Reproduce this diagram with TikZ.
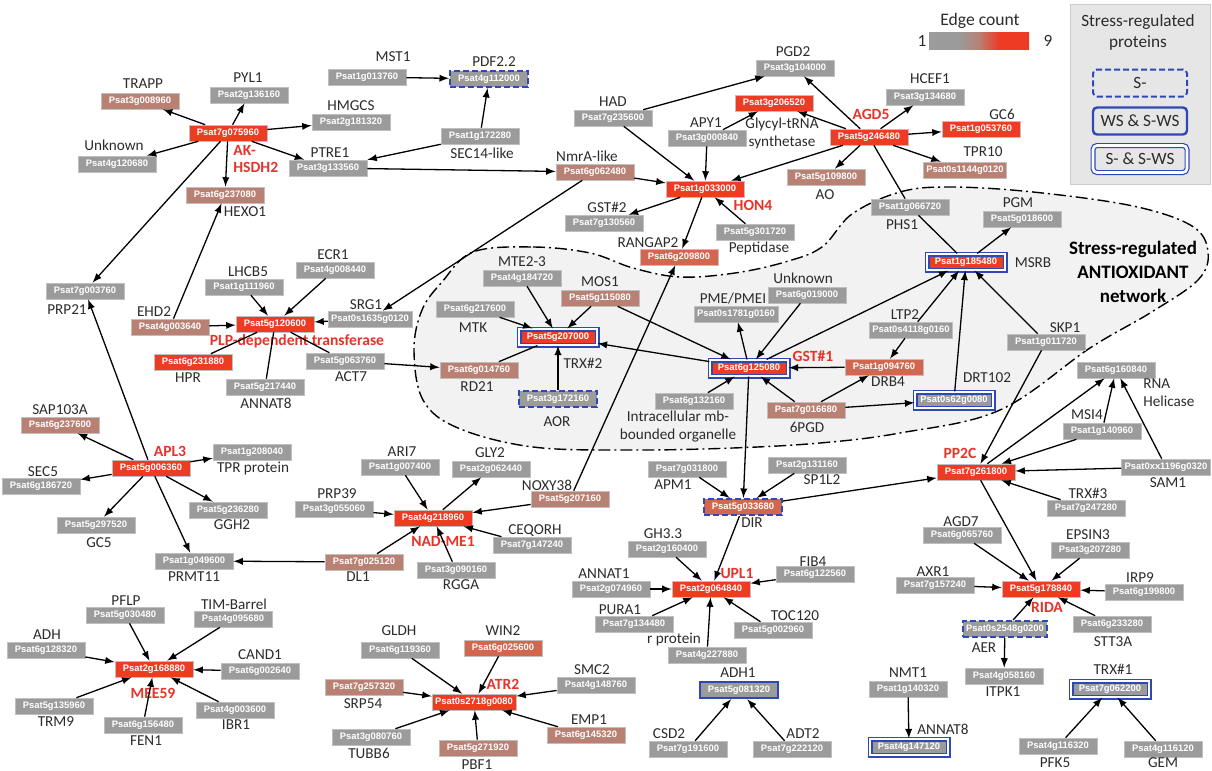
\documentclass[tikz,border=0pt]{standalone}
\usepackage{fontspec}
\setmainfont{Carlito}
\newfontfamily\boxfont{Liberation Sans}
\usepackage{tikz}

\definecolor{cgrey}{HTML}{9B9B9B}
\definecolor{cbrown}{HTML}{B98074}
\definecolor{corange}{HTML}{D2664E}
\definecolor{cred}{HTML}{EE3B24}
\definecolor{cblue}{HTML}{2E49B5}
\definecolor{ctext}{HTML}{E8322A}
\definecolor{cblob}{HTML}{F2F2F2}
\definecolor{clegend}{HTML}{E7E6E6}
\definecolor{clabel}{HTML}{2B2B2B}

\pgfdeclarehorizontalshading{edgeshade}{100bp}{color(0bp)=(cgrey); color(25bp)=(cgrey); color(40bp)=(cgrey); color(50bp)=(cbrown); color(60bp)=(cred); color(75bp)=(cred); color(100bp)=(cred)}

\tikzset{
  prot/.style={rectangle, minimum width=39pt, minimum height=8pt, inner xsep=1.5pt, inner ysep=0pt,
    text=white, font=\boxfont\bfseries\fontsize{4.7}{5}\selectfont, draw=black!25, line width=0.3pt},
  pgrey/.style={prot, fill=cgrey},
  pbrown/.style={prot, fill=cbrown},
  porange/.style={prot, fill=corange},
  phub/.style={prot, fill=cred},
  sdash/.style={draw=cblue, line width=1pt, dash pattern=on 3pt off 1.5pt},
  sws/.style={draw=cblue, line width=1.2pt},
  sdbl/.style={draw=cblue, line width=0.6pt, double=white, double distance=1.3pt},
  lab/.style={font=\fontsize{7.6}{9}\selectfont, text=clabel, inner sep=0pt, align=center},
  hublab/.style={font=\bfseries\fontsize{7.8}{8.8}\selectfont, text=ctext, inner sep=0pt, align=left},
  legbox/.style={rectangle, rounded corners=2pt, minimum width=47pt, minimum height=13.5pt,
    font=\fontsize{8.6}{10}\selectfont, text=clabel},
  link/.style={-latex, line width=0.65pt},
  bare/.style={line width=0.65pt}
}

\begin{document}
\begin{tikzpicture}[x=0.5pt,y=-0.5pt]
  \useasboundingbox (0,0) rectangle (1212,771);

  % antioxidant network area
  \begin{scope}
    \clip (0,0) rectangle (1212,771);
    \draw[fill=cblob, line width=0.7pt, dash pattern=on 6pt off 2pt on 1pt off 2pt]
      plot[smooth cycle, tension=0.6] coordinates {(473,252) (533,247) (590,253) (633,268) (680,277)
      (735,273) (785,262) (822,247) (852,214) (900,192) (950,187) (1033,192) (1133,206) (1192,226)
      (1208,252) (1198,280) (1150,313) (1090,348) (1000,410) (900,433) (820,443) (733,448) (633,450)
      (533,447) (458,428) (423,400) (414,350) (422,310) (442,282)};
  \end{scope}
  \node[font=\bfseries\fontsize{9.5}{12}\selectfont, align=center, inner sep=0pt] (antiox) at (1133,272)
    {Stress-regulated\\ANTIOXIDANT\\network};

  % legend
  \node[font=\fontsize{8.8}{10}\selectfont, text=clabel, inner sep=0pt] (edgecount) at (980,21) {Edge count};
  \shade[shading=edgeshade] (929,32) rectangle (1029,49);
  \node[lab, font=\fontsize{8.6}{10}\selectfont] (cmin) at (922,41) {1};
  \node[lab, font=\fontsize{8.6}{10}\selectfont] (cmax) at (1048,41) {9};
  \draw[fill=clegend, draw=black!20] (1070,4) rectangle (1210,184);
  \node[lab, font=\fontsize{8.6}{10.5}\selectfont] (legtitle) at (1138,32) {Stress-regulated\\proteins};
  \node[legbox, sdash] (legS) at (1140,83) {S-};
  \node[legbox, sws] (legWS) at (1140,121) {WS \& S-WS};
  \node[legbox, sdbl] (legSS) at (1140,159) {S- \& S-WS};

  % AK-HSDH2
  \node[phub] (akhsdh) at (228,133) {Psat7g075960};
  \node[pbrown] (trapp) at (140,101) {Psat3g008960};
  \node[pgrey] (pyl) at (249,95) {Psat2g136160};
  \node[pgrey] (hmgcs) at (351,122) {Psat2g181320};
  \node[pgrey] (unkA) at (117,164) {Psat4g120680};
  \node[pgrey] (ptre) at (328,168) {Psat3g133560};
  \node[pbrown] (hexo) at (225,195) {Psat6g237080};
  \node[pgrey] (mst) at (367,77) {Psat1g013760};
  \node[pgrey, sdash] (pdf) at (489,79) {Psat4g112000};
  \node[pgrey] (sec14) at (480,136) {Psat1g172280};
  \node[hublab, anchor=west] (lakhsdh) at (233,159) {AK-\\HSDH2};
  \node[lab] (ltrapp) at (143,84) {TRAPP};
  \node[lab] (lpyl) at (248,78) {PYL1};
  \node[lab] (lhmgcs) at (351,106) {HMGCS};
  \node[lab] (lunkA) at (114,145) {Unknown};
  \node[lab] (lptre) at (330,153) {PTRE1};
  \node[lab] (lhexo) at (245,212) {HEXO1};
  \node[lab] (lmst) at (393,57) {MST1};
  \node[lab] (lpdf) at (494,62) {PDF2.2};
  \node[lab] (lsec14) at (482,153) {SEC14-like};

  % HON4 and AGD5
  \node[phub] (hon) at (705,189) {Psat1g033000};
  \node[pgrey] (had) at (613,118) {Psat7g235600};
  \node[pgrey] (pgd) at (795,68) {Psat3g104000};
  \node[phub] (glycyl) at (774,103) {Psat3g206520};
  \node[pgrey] (apy) at (707,138) {Psat3g000840};
  \node[pbrown] (nmra) at (595,172) {Psat6g062480};
  \node[pgrey] (gst2) at (604,223) {Psat7g130560};
  \node[pgrey] (pept) at (755,232) {Psat5g301720};
  \node[porange] (rangap) at (679,257) {Psat6g209800};
  \node[phub] (agd5) at (869,137) {Psat5g246480};
  \node[pgrey] (hcef) at (925,97) {Psat3g134680};
  \node[phub] (gc6) at (981,129) {Psat1g053760};
  \node[pbrown] (tpr10) at (965,170) {Psat0s1144g0120};
  \node[pbrown] (ao) at (826,177) {Psat5g109800};
  \node[pgrey] (phs) at (910,207) {Psat1g066720};
  \node[pgrey] (pgm) at (1022,219) {Psat5g018600};
  \node[phub, sdbl] (msrb) at (966,262) {Psat1g185480};
  \node[hublab] (lhon) at (753,205) {HON4};
  \node[hublab] (lagd5) at (871,114) {AGD5};
  \node[lab] (lhad) at (613,102) {HAD};
  \node[lab] (lpgd) at (793,52) {PGD2};
  \node[lab] (lglycyl) at (782,133) {Glycyl-tRNA\\synthetase};
  \node[lab] (lapy) at (706,123) {APY1};
  \node[lab] (lnmra) at (587,156) {NmrA-like};
  \node[lab] (lgst2) at (607,207) {GST\#2};
  \node[lab] (lpept) at (759,248) {Peptidase};
  \node[lab] (lrangap) at (648,243) {RANGAP2};
  \node[lab] (lhcef) at (930,79) {HCEF1};
  \node[lab] (lgc6) at (1002,114) {GC6};
  \node[lab] (ltpr10) at (983,152) {TPR10};
  \node[lab] (lao) at (825,195) {AO};
  \node[lab] (lphs) at (902,225) {PHS1};
  \node[lab] (lpgm) at (1018,203) {PGM};
  \node[lab] (lmsrb) at (1033,263) {MSRB};

  % PLP-dependent transferase
  \node[phub] (plp) at (275,324) {Psat5g120600};
  \node[pgrey] (prp21) at (85,291) {Psat7g003760};
  \node[pbrown] (ehd) at (170,327) {Psat4g003640};
  \node[pgrey] (lhcb) at (244,287) {Psat1g111960};
  \node[pgrey] (ecr) at (335,270) {Psat4g008440};
  \node[pgrey] (srg) at (370,319) {Psat0s1635g0120};
  \node[phub] (hpr) at (193,362) {Psat6g231880};
  \node[pgrey] (annat8) at (265,387) {Psat5g217440};
  \node[pgrey] (act) at (345,361) {Psat5g063760};
  \node[hublab] (lplp) at (297,341) {PLP-dependent transferase};
  \node[lab] (lprp21) at (67,310) {PRP21};
  \node[lab] (lehd) at (154,312) {EHD2};
  \node[lab] (llhcb) at (248,272) {LHCB5};
  \node[lab] (lecr) at (333,255) {ECR1};
  \node[lab] (lsrg) at (366,305) {SRG1};
  \node[lab] (lhpr) at (188,378) {HPR};
  \node[lab] (lannat8) at (266,403) {ANNAT8};
  \node[lab] (lact) at (351,377) {ACT7};

  % APL3
  \node[phub] (apl) at (151,468) {Psat5g006360};
  \node[pbrown] (sap) at (60,425) {Psat6g237600};
  \node[pgrey] (tpr) at (252,452) {Psat1g208040};
  \node[pgrey] (sec5) at (41,486) {Psat6g186720};
  \node[pgrey] (ggh) at (228,510) {Psat5g236280};
  \node[pgrey] (gc5) at (96,525) {Psat5g297520};
  \node[pgrey] (prmt) at (194,561) {Psat1g049600};
  \node[hublab] (lapl) at (170,451) {APL3};
  \node[lab] (lsap) at (60,410) {SAP103A};
  \node[lab] (ltpr) at (253,468) {TPR protein};
  \node[lab] (lsec5) at (43,472) {SEC5};
  \node[lab] (lggh) at (232,525) {GGH2};
  \node[lab] (lgc5) at (99,543) {GC5};
  \node[lab] (lprmt) at (194,577) {PRMT11};

  % NAD-ME1
  \node[phub] (nad) at (433,518) {Psat4g218960};
  \node[pgrey] (ari) at (400,467) {Psat1g007400};
  \node[pgrey] (gly) at (491,469) {Psat2g062440};
  \node[pgrey] (prp39) at (334,509) {Psat3g055060};
  \node[pbrown] (noxy) at (570,499) {Psat5g207160};
  \node[pgrey] (ceq) at (532,545) {Psat7g147240};
  \node[pbrown] (dl) at (364,562) {Psat7g025120};
  \node[pgrey] (rgga) at (456,570) {Psat3g090160};
  \node[hublab] (lnad) at (443,541) {NAD-ME1};
  \node[lab] (lari) at (402,452) {ARI7};
  \node[lab] (lgly) at (490,453) {GLY2};
  \node[lab] (lprp39) at (337,494) {PRP39};
  \node[lab] (lnoxy) at (547,485) {NOXY38};
  \node[lab] (lceq) at (535,531) {CEQORH};
  \node[lab] (ldl) at (358,577) {DL1};
  \node[lab] (lrgga) at (461,585) {RGGA};

  % MEE59
  \node[phub] (mee) at (154,669) {Psat2g168880};
  \node[pgrey] (pflp) at (125,615) {Psat5g030480};
  \node[pgrey] (tim) at (233,619) {Psat4g095680};
  \node[pgrey] (adh) at (46,650) {Psat6g128320};
  \node[pgrey] (cand) at (260,671) {Psat6g002640};
  \node[pgrey] (trm) at (54,706) {Psat5g135960};
  \node[pgrey] (fen) at (143,725) {Psat6g156480};
  \node[pgrey] (ibr) at (235,710) {Psat4g003600};
  \node[hublab] (lmee) at (153,693) {MEE59};
  \node[lab] (lpflp) at (126,601) {PFLP};
  \node[lab] (ltim) at (234,604) {TIM-Barrel};
  \node[lab] (ladh) at (47,635) {ADH};
  \node[lab] (lcand) at (260,655) {CAND1};
  \node[lab] (ltrm) at (56,722) {TRM9};
  \node[lab] (lfen) at (146,741) {FEN1};
  \node[lab] (libr) at (236,725) {IBR1};

  % ATR2
  \node[phub] (atr) at (474,702) {Psat0s2718g0080};
  \node[pgrey] (gldh) at (400,650) {Psat6g119360};
  \node[porange] (win) at (503,648) {Psat6g025600};
  \node[pgrey] (smc) at (596,685) {Psat4g148760};
  \node[pbrown] (srp) at (364,687) {Psat7g257320};
  \node[pgrey] (tubb) at (371,737) {Psat3g080760};
  \node[pbrown] (pbf) at (478,748) {Psat5g271920};
  \node[pbrown] (emp) at (586,735) {Psat6g145320};
  \node[hublab] (latr) at (503,684) {ATR2};
  \node[lab] (lgldh) at (399,631) {GLDH};
  \node[lab] (lwin) at (503,631) {WIN2};
  \node[lab] (lsmc) at (592,670) {SMC2};
  \node[lab] (lsrp) at (363,704) {SRP54};
  \node[lab] (ltubb) at (369,753) {TUBB6};
  \node[lab] (lpbf) at (477,765) {PBF1};
  \node[lab] (lemp) at (589,720) {EMP1};

  % UPL1 and DIR
  \node[phub] (upl) at (711,589) {Psat2g064840};
  \node[porange, sdash] (dir) at (743,507) {Psat5g033680};
  \node[pgrey] (apm) at (687,469) {Psat7g031800};
  \node[pgrey] (sp1) at (807,465) {Psat2g131160};
  \node[pgrey] (gh) at (667,549) {Psat2g160400};
  \node[pgrey] (annat1) at (611,589) {Psat2g074960};
  \node[pgrey] (fib) at (815,574) {Psat6g122560};
  \node[pgrey] (pura) at (634,624) {Psat7g134480};
  \node[pgrey] (rprot) at (707,655) {Psat4g227880};
  \node[pgrey] (toc) at (773,630) {Psat5g002960};
  \node[pgrey, sws] (adh1) at (739,690) {Psat5g081320};
  \node[pgrey] (csd) at (688,749) {Psat7g191600};
  \node[pgrey] (adt) at (792,749) {Psat7g222120};
  \node[hublab] (lupl) at (737,573) {UPL1};
  \node[lab] (ldir) at (752,523) {DIR};
  \node[lab] (lapm) at (673,485) {APM1};
  \node[lab] (lsp1) at (822,480) {SP1L2};
  \node[lab] (lgh) at (663,534) {GH3.3};
  \node[lab] (lannat1) at (604,574) {ANNAT1};
  \node[lab] (lfib) at (813,562) {FIB4};
  \node[lab] (lpura) at (620,610) {PURA1};
  \node[lab] (lrprot) at (674,639) {r protein};
  \node[lab] (ltoc) at (795,616) {TOC120};
  \node[lab] (ladh1) at (738,673) {ADH1};
  \node[lab] (lcsd) at (669,734) {CSD2};
  \node[lab] (ladt) at (803,734) {ADT2};

  % antioxidant network
  \node[phub, sdbl] (gst1) at (749,368) {Psat6g125080};
  \node[phub, sdbl] (trx2) at (558,337) {Psat5g207000};
  \node[pgrey] (mte) at (522,278) {Psat4g184720};
  \node[pbrown] (mos) at (600,298) {Psat5g115080};
  \node[pgrey] (mtk) at (475,309) {Psat6g217600};
  \node[pbrown] (rd21) at (479,370) {Psat6g014760};
  \node[pgrey, sdash] (aor) at (558,399) {Psat3g172160};
  \node[pgrey] (pme) at (736,314) {Psat0s1781g0160};
  \node[pgrey] (unkB) at (807,295) {Psat6g019000};
  \node[pgrey] (intra) at (694,401) {Psat6g132160};
  \node[pbrown] (pgd6) at (806,410) {Psat7g016680};
  \node[porange] (drb) at (884,367) {Psat1g094760};
  \node[pgrey] (ltp) at (911,330) {Psat0s4118g0160};
  \node[pgrey, sdbl] (drt) at (954,400) {Psat0s62g0080};
  \node[pgrey] (skp) at (1046,342) {Psat1g011720};
  \node[hublab] (lgst1) at (813,356) {GST\#1};
  \node[lab] (lmte) at (522,262) {MTE2-3};
  \node[lab] (lmos) at (600,282) {MOS1};
  \node[lab] (lmtk) at (473,328) {MTK};
  \node[lab] (ltrx2) at (583,363) {TRX\#2};
  \node[lab] (lrd21) at (477,387) {RD21};
  \node[lab] (laor) at (557,422) {AOR};
  \node[lab] (lpme) at (733,299) {PME/PMEI};
  \node[lab] (lunkB) at (803,278) {Unknown};
  \node[lab] (lintra) at (678,427) {Intracellular mb-\\bounded organelle};
  \node[lab] (lpgd6) at (807,427) {6PGD};
  \node[lab] (ldrb) at (888,382) {DRB4};
  \node[lab] (lltp) at (905,315) {LTP2};
  \node[lab] (ldrt) at (987,378) {DRT102};
  \node[lab] (lskp) at (1065,328) {SKP1};

  % PP2C and RIDA
  \node[phub] (pp2c) at (976,472) {Psat7g261800};
  \node[pgrey] (rnah) at (1116,370) {Psat6g160840};
  \node[pgrey] (msi) at (1102,431) {Psat1g140960};
  \node[pgrey] (sam) at (1166,467) {Psat0xx1196g0320};
  \node[pgrey] (trx3) at (1086,508) {Psat7g247280};
  \node[phub] (rida) at (1041,589) {Psat5g178840};
  \node[pgrey] (agd7) at (962,535) {Psat6g065760};
  \node[pgrey] (epsin) at (1090,550) {Psat3g207280};
  \node[pgrey] (axr) at (935,585) {Psat7g157240};
  \node[pgrey] (irp) at (1144,592) {Psat6g199800};
  \node[pgrey] (stt) at (1112,624) {Psat6g233280};
  \node[pgrey, sdash] (aer) at (1005,629) {Psat0s2548g0200};
  \node[pgrey] (itpk) at (1004,676) {Psat4g058160};
  \node[pgrey] (nmt) at (908,689) {Psat1g140320};
  \node[pgrey, sdbl] (annat8b) at (909,747) {Psat4g147120};
  \node[pgrey, sdbl] (trx1) at (1110,689) {Psat7g062200};
  \node[pgrey] (pfk) at (1058,746) {Psat4g116320};
  \node[pgrey] (gem) at (1163,749) {Psat4g116120};
  \node[hublab] (lpp2c) at (960,453) {PP2C};
  \node[hublab] (lrida) at (1047,607) {RIDA};
  \node[lab, anchor=west, align=left] (lrnah) at (1143,393) {RNA\\Helicase};
  \node[lab] (lmsi) at (1087,415) {MSI4};
  \node[lab] (lsam) at (1168,483) {SAM1};
  \node[lab] (ltrx3) at (1088,493) {TRX\#3};
  \node[lab] (lagd7) at (961,522) {AGD7};
  \node[lab] (lepsin) at (1088,535) {EPSIN3};
  \node[lab] (laxr) at (933,572) {AXR1};
  \node[lab] (lirp) at (1140,578) {IRP9};
  \node[lab] (lstt) at (1113,642) {STT3A};
  \node[lab] (laer) at (984,648) {AER};
  \node[lab] (litpk) at (1003,692) {ITPK1};
  \node[lab] (lnmt) at (908,673) {NMT1};
  \node[lab] (lannat8b) at (943,729) {ANNAT8};
  \node[lab] (ltrx1) at (1113,669) {TRX\#1};
  \node[lab] (lpfk) at (1055,763) {PFK5};
  \node[lab] (lgem) at (1163,763) {GEM};

  % connectors
  \foreach \n in {trapp,pyl,hmgcs,unkA,ptre,hexo,prp21}
    \draw[link] (akhsdh) -- (\n);
  \draw[link] (ehd) -- (hexo);
  \draw[link] (mst) -- (pdf);
  \draw[link] (sec14) -- (pdf);
  \draw[link] (sec14) -- (ptre);
  \draw[link] (ptre) -- (nmra);
  \foreach \n in {had,apy,agd5,nmra,pept}
    \draw[link] (\n) -- (hon);
  \draw[link] (hon) -- (gst2);
  \draw[link] (hon) -- (rangap);
  \draw[link] (had) -- (pgd);
  \draw[link] (apy) -- (glycyl);
  \draw[link] (noxy) -- (rangap);
  \draw[link] (nmra) -- (srg);
  \foreach \n in {pgd,glycyl,hcef,gc6,tpr10,ao}
    \draw[link] (agd5) -- (\n);
  \draw[bare] (agd5) -- (phs);
  \draw[bare] (phs) -- (msrb);
  \draw[link] (msrb) -- (pgm);
  \foreach \n in {gst1,ltp,drt,skp}
    \draw[link] (\n) -- (msrb);
  \draw[link] (ltp) -- (drb);
  \draw[link] (drb) -- (gst1);
  \draw[link] (pgd6) -- (drb);
  \draw[link] (pgd6) -- (drt);
  \foreach \n in {pgd6,intra,unkB,mos}
    \draw[link] (\n) -- (gst1);
  \draw[link] (gst1) -- (pme);
  \draw[link] (gst1) -- (trx2);
  \foreach \n in {mos,mte,mtk,aor}
    \draw[link] (\n) -- (trx2);
  \draw[bare] (trx2) -- (rd21);
  \draw[link] (act) -- (rd21);
  \draw[link] (gst1) -- (dir);
  \foreach \n in {lhcb,ecr,srg,ehd}
    \draw[link] (\n) -- (plp);
  \foreach \n in {hpr,annat8,act}
    \draw[bare] (plp) -- (\n);
  \foreach \n in {prp21,sap,tpr,sec5,ggh,gc5,prmt}
    \draw[link] (apl) -- (\n);
  \foreach \n in {ari,prp39,noxy,ceq,rgga,dl}
    \draw[link] (\n) -- (nad);
  \draw[link] (nad) -- (gly);
  \draw[link] (dl) -- (prmt);
  \foreach \n in {pflp,tim,adh,cand,trm,fen,ibr}
    \draw[link] (\n) -- (mee);
  \foreach \n in {gldh,win,smc,srp,tubb,pbf,emp}
    \draw[link] (\n) -- (atr);
  \foreach \n in {dir,gh,annat1,fib,pura,rprot,toc}
    \draw[link] (\n) -- (upl);
  \draw[link] (apm) -- (dir);
  \draw[link] (sp1) -- (dir);
  \draw[link] (dir) -- (pp2c);
  \draw[link] (csd) -- (adh1);
  \draw[link] (adt) -- (adh1);
  \foreach \n in {skp,msi,sam,trx3}
    \draw[link] (\n) -- (pp2c);
  \draw[link] (pp2c) -- (rnah);
  \draw[link] (msi) -- (rnah);
  \draw[link] (sam) -- (rnah);
  \draw[link] (pp2c) -- (rida);
  \foreach \n in {agd7,epsin,axr,irp,stt,aer}
    \draw[link] (\n) -- (rida);
  \draw[link] (aer) -- (itpk);
  \draw[link] (nmt) -- (annat8b);
  \draw[link] (pfk) -- (trx1);
  \draw[link] (gem) -- (trx1);
\end{tikzpicture}
\end{document}
